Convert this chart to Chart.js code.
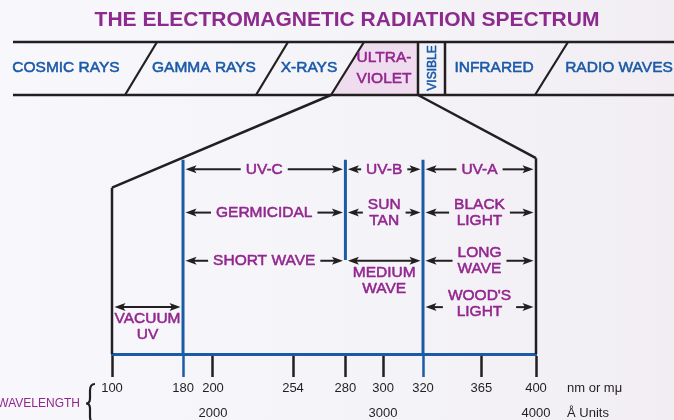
<!DOCTYPE html>
<html>
<head>
<meta charset="utf-8">
<script src="https://cdn.jsdelivr.net/npm/chart.js@4.4.1/dist/chart.umd.min.js"></script>
<style>
  html, body { margin: 0; padding: 0; background: #f5f4f9; }
  canvas { display: block; }
</style>
</head>
<body>
<canvas id="c" width="674" height="420"></canvas>
<script>
// ---------------- data ----------------
const chartTitle = 'THE ELECTROMAGNETIC RADIATION SPECTRUM';
const spectrumBands = ['COSMIC RAYS', 'GAMMA RAYS', 'X-RAYS', 'ULTRA-\nVIOLET', 'VISIBLE', 'INFRARED', 'RADIO WAVES'];
const wavelengthTicksNm = [100, 180, 200, 254, 280, 300, 320, 365, 400];
const angstromTicks = [2000, 3000, 4000];
const unitNm = 'nm or mμ';
const unitAngstrom = 'Å Units';
const axisName = 'WAVELENGTH';

const uvBandNames = ['UV-C', 'UV-B', 'UV-A'];
const uvBandStartNm = [180, 280, 320];
const uvBandEndNm = [280, 320, 400];
const usageNames = ['GERMICIDAL', 'SUN\nTAN', 'BLACK\nLIGHT'];
const waveNames = ['SHORT WAVE', 'MEDIUM\nWAVE', 'LONG\nWAVE'];
const extraNames = ['VACUUM\nUV', "WOOD'S\nLIGHT"];
const extraStartNm = [100, 320];
const extraEndNm = [180, 400];
const uvLimitsNm = [100, 400];
const boundaryNm = [180, 280, 320];

// ---------------- layout / style (not data) ----------------
const C = {
  purple: '#93278f', title: '#8d2a8d', blue: '#1b5aa7', black: '#231f20', pink: '#efdcee'
};
const FONT = "'Liberation Sans', Arial, Helvetica, sans-serif";
// the diagram is not drawn to scale: fraction of axis width for each tick wavelength
const xFrac = [0, 0.1675, 0.2382, 0.4269, 0.5505, 0.6392, 0.7335, 0.8712, 1];
// vertical levels of the diagram (y axis units 0..100)
const LV = { roofLeft: 64.2, roofRight: 75.6, boundaryTop: 75, boundaryMidBottom: 36.3,
             uvRow: 71.3, usageRow: 54.6, waveRow: 36.0, extraRow: 18.1 };
const waveModes = ['split', 'below', 'split'];
const extraModes = ['below', 'split'];
const extraShift = [0, -3.5];
const band = { top: 42, bottom: 95, left: 13, right: 674,
  slashes: [[157, 125], [288, 256], [364, 331], [568, 535]],
  verticals: [418, 445],
  labelX: [66, 204, 309, 384, 432.5, 494, 619], labelY: 68 };

// ---------------- piecewise wavelength scale ----------------
class PiecewiseScale extends Chart.LinearScale {
  _frac(v) {
    const s = wavelengthTicksNm, f = xFrac, n = s.length - 1;
    let i = 0;
    if (v <= s[0]) i = 0;
    else if (v >= s[n]) i = n - 1;
    else { while (i < n - 1 && v > s[i + 1]) i++; }
    return f[i] + (v - s[i]) / (s[i + 1] - s[i]) * (f[i + 1] - f[i]);
  }
  getPixelForValue(value) { return this.left + this._frac(value) * this.width; }
  getValueForPixel(pixel) {
    const t = (pixel - this.left) / this.width, s = wavelengthTicksNm, f = xFrac;
    let i = 0;
    while (i < f.length - 2 && t > f[i + 1]) i++;
    return s[i] + (t - f[i]) / (f[i + 1] - f[i]) * (s[i + 1] - s[i]);
  }
}
PiecewiseScale.id = 'piecewise';
PiecewiseScale.defaults = Chart.LinearScale.defaults;
Chart.register(PiecewiseScale);

// ---------------- datasets: diagram lines ----------------
const datasets = [];
function vline(nm, y0, y1, color, w) {
  datasets.push({ data: [{ x: nm, y: y0 }, { x: nm, y: y1 }], borderColor: color, borderWidth: w,
    pointRadius: 0, pointHoverRadius: 0, tension: 0, clip: false, borderCapStyle: 'butt' });
}
vline(uvLimitsNm[0], 0, LV.roofLeft, C.black, 2.5);
vline(uvLimitsNm[1], 0, LV.roofRight, C.black, 2.5);
boundaryNm.forEach(nm => vline(nm, nm === 280 ? LV.boundaryMidBottom : 0, LV.boundaryTop, C.blue, 3));

// ---------------- arrow annotations ----------------
const arrows = [];
uvBandNames.forEach((t, i) => arrows.push({ from: uvBandStartNm[i], to: uvBandEndNm[i], level: LV.uvRow, text: t, mode: 'split', shift: 0 }));
usageNames.forEach((t, i) => arrows.push({ from: uvBandStartNm[i], to: uvBandEndNm[i], level: LV.usageRow, text: t, mode: 'split', shift: 0 }));
waveNames.forEach((t, i) => arrows.push({ from: uvBandStartNm[i], to: uvBandEndNm[i], level: LV.waveRow, text: t, mode: waveModes[i], shift: 0 }));
extraNames.forEach((t, i) => arrows.push({ from: extraStartNm[i], to: extraEndNm[i], level: LV.extraRow, text: t, mode: extraModes[i], shift: extraShift[i] }));

function head(ctx, x, y, dir) {
  const L = 11, H = 4;
  ctx.beginPath();
  ctx.moveTo(x, y);
  ctx.lineTo(x - dir * L, y - H);
  ctx.lineTo(x - dir * (L - 2.5), y);
  ctx.lineTo(x - dir * L, y + H);
  ctx.closePath();
  ctx.fill();
}
function shaft(ctx, xa, xb, y) {
  ctx.beginPath(); ctx.moveTo(xa, y); ctx.lineTo(xb, y); ctx.stroke();
}
// medium-weight text: fill plus a thin outline in the same colour
function medText(ctx, t, x, y) {
  ctx.fillText(t, x, y);
  ctx.save();
  ctx.strokeStyle = ctx.fillStyle; ctx.lineWidth = 0.55; ctx.lineJoin = 'round';
  ctx.strokeText(t, x, y);
  ctx.restore();
}

const diagramPlugin = {
  id: 'diagram',
  beforeDraw(chart) {
    const ctx = chart.ctx;
    const g = ctx.createLinearGradient(0, 0, chart.width, 0);
    g.addColorStop(0, '#f7f7fc');
    g.addColorStop(0.6, '#f4f3f8');
    g.addColorStop(1, '#f1edf3');
    ctx.save(); ctx.fillStyle = g; ctx.fillRect(0, 0, chart.width, chart.height); ctx.restore();
  },
  afterDraw(chart) {
    const ctx = chart.ctx, xs = chart.scales.x, ys = chart.scales.y;
    ctx.save();
    // ---- title ----
    ctx.fillStyle = C.title;
    ctx.font = `bold 21px ${FONT}`;
    ctx.textAlign = 'center'; ctx.textBaseline = 'middle';
    ctx.fillText(chartTitle, 347, 20);

    // ---- spectrum band ----
    const sl = band.slashes;
    ctx.fillStyle = C.pink;
    ctx.beginPath();
    ctx.moveTo(sl[2][0], band.top); ctx.lineTo(band.verticals[0], band.top);
    ctx.lineTo(band.verticals[0], band.bottom); ctx.lineTo(sl[2][1], band.bottom);
    ctx.closePath(); ctx.fill();

    ctx.strokeStyle = C.black; ctx.lineWidth = 2.7; ctx.lineCap = 'butt';
    shaft(ctx, band.left, band.right, band.top);
    shaft(ctx, band.left, band.right, band.bottom);
    ctx.lineWidth = 2.2;
    sl.forEach(s => { ctx.beginPath(); ctx.moveTo(s[0], band.top); ctx.lineTo(s[1], band.bottom); ctx.stroke(); });
    ctx.lineWidth = 2.5;
    band.verticals.forEach(v => { ctx.beginPath(); ctx.moveTo(v, band.top); ctx.lineTo(v, band.bottom); ctx.stroke(); });

    // roof lines from the UV cell down to the detail box
    ctx.lineWidth = 2.5;
    ctx.beginPath(); ctx.moveTo(sl[2][1], band.bottom);
    ctx.lineTo(xs.getPixelForValue(uvLimitsNm[0]), ys.getPixelForValue(LV.roofLeft)); ctx.stroke();
    ctx.beginPath(); ctx.moveTo(band.verticals[0], band.bottom);
    ctx.lineTo(xs.getPixelForValue(uvLimitsNm[1]), ys.getPixelForValue(LV.roofRight)); ctx.stroke();

    // band labels
    spectrumBands.forEach((name, i) => {
      const x = band.labelX[i];
      if (name === 'VISIBLE') {
        ctx.save();
        ctx.translate(x, band.labelY); ctx.rotate(-Math.PI / 2);
        ctx.fillStyle = C.blue; ctx.font = `12px ${FONT}`;
        medText(ctx, name, 0, 0.5);
        ctx.restore();
        return;
      }
      const lines = name.split('\n');
      ctx.fillStyle = lines.length > 1 ? C.purple : C.blue;
      ctx.font = `15.5px ${FONT}`;
      if (lines.length > 1) {
        medText(ctx, lines[0], x, band.labelY - 10.5);
        medText(ctx, lines[1], x, band.labelY + 11);
      } else {
        medText(ctx, name, x, band.labelY);
      }
    });

    // ---- arrows with labels ----
    ctx.font = `15.5px ${FONT}`;
    arrows.forEach(a => {
      const p0 = xs.getPixelForValue(a.from) + 2.5;
      const p1 = xs.getPixelForValue(a.to) - 2.5;
      const y = ys.getPixelForValue(a.level);
      const cx = (xs.getPixelForValue(a.from) + xs.getPixelForValue(a.to)) / 2;
      const lines = a.text.split('\n');
      ctx.strokeStyle = C.black; ctx.fillStyle = C.black; ctx.lineWidth = 2;
      if (a.mode === 'below') {
        shaft(ctx, p0 + 8, p1 - 8, y);
        head(ctx, p0, y, -1); head(ctx, p1, y, 1);
        ctx.fillStyle = C.purple;
        lines.forEach((t, k) => medText(ctx, t, cx, y + 12 + k * 15.5));
      } else {
        const w = Math.max(...lines.map(t => ctx.measureText(t).width));
        const gap = 5;
        shaft(ctx, p0 + 8, cx - w / 2 - gap, y);
        shaft(ctx, cx + w / 2 + gap, p1 - 8, y);
        head(ctx, p0, y, -1); head(ctx, p1, y, 1);
        ctx.fillStyle = C.purple;
        if (lines.length === 1) medText(ctx, lines[0], cx, y + a.shift);
        else lines.forEach((t, k) => medText(ctx, t, cx, y + a.shift + (k === 0 ? -8 : 8)));
      }
    });

    // ---- axis side texts ----
    ctx.fillStyle = C.black; ctx.font = `13px ${FONT}`; ctx.textAlign = 'left';
    const xr = xs.right + 31;
    ctx.fillText(unitNm, xr, 388.5);
    ctx.fillText(unitAngstrom, xr, 413.5);
    ctx.fillStyle = C.purple; ctx.font = `12px ${FONT}`; ctx.textAlign = 'right';
    ctx.fillText(axisName, 80, 403.5);
    // brace
    ctx.strokeStyle = C.black; ctx.lineWidth = 2.2;
    const bx = 90, by = 403.5;
    ctx.beginPath();
    ctx.moveTo(bx + 5, by - 19.5);
    ctx.quadraticCurveTo(bx, by - 19.5, bx, by - 13);
    ctx.lineTo(bx, by - 5);
    ctx.quadraticCurveTo(bx, by, bx - 4, by);
    ctx.quadraticCurveTo(bx, by, bx, by + 5);
    ctx.lineTo(bx, by + 13);
    ctx.quadraticCurveTo(bx, by + 19.5, bx + 5, by + 19.5);
    ctx.stroke();
    ctx.restore();
  }
};

new Chart(document.getElementById('c'), {
  type: 'line',
  data: { datasets },
  plugins: [diagramPlugin],
  options: {
    responsive: false,
    devicePixelRatio: 1,
    animation: false,
    events: [],
    layout: { padding: { left: 112, right: 138, top: 95, bottom: 0 } },
    plugins: { legend: { display: false }, tooltip: { enabled: false }, title: { display: false } },
    scales: {
      x: {
        type: 'piecewise',
        min: 100, max: 400,
        afterBuildTicks: s => { s.ticks = wavelengthTicksNm.map(v => ({ value: v })); },
        afterFit: s => { s.height = 66; },
        border: { display: true, color: C.blue, width: 3 },
        grid: {
          display: true, drawOnChartArea: false, drawTicks: true, tickLength: 23,
          tickWidth: 2.5,
          tickColor: ctx => (ctx.tick && boundaryNm.includes(ctx.tick.value) && ctx.tick.value !== 280) ? C.blue : C.black
        },
        ticks: {
          autoSkip: false, maxRotation: 0, minRotation: 0, padding: -1,
          color: C.black,
          font: { family: FONT, size: 13, lineHeight: 25 / 13 },
          callback: v => [String(v), angstromTicks.includes(v * 10) ? String(v * 10) : '']
        }
      },
      y: { type: 'linear', display: false, min: 0, max: 100 }
    }
  }
});
</script>
</body>
</html>
